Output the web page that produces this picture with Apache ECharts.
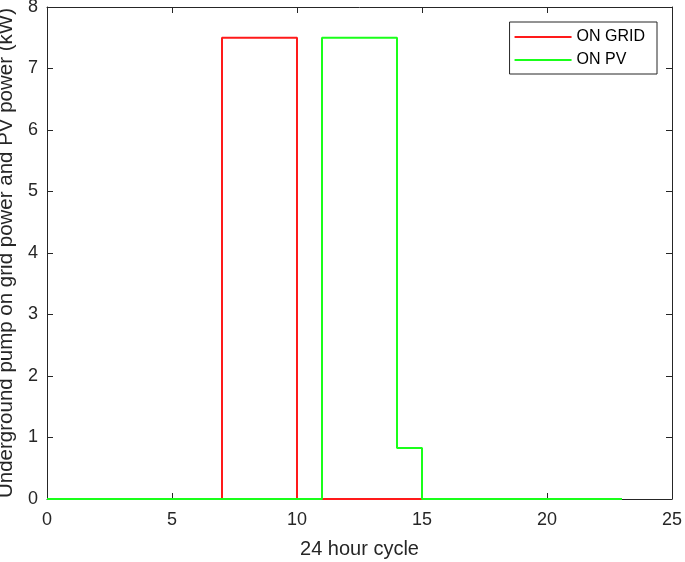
<!DOCTYPE html>
<html>
<head>
<meta charset="utf-8">
<script src="https://cdn.jsdelivr.net/npm/echarts@6/dist/echarts.min.js"></script>
<style>
html, body { margin: 0; padding: 0; background: #fff; }
#chart { width: 685px; height: 562px; }
</style>
</head>
<body>
<div id="chart"></div>
<script>
// 数据
const xTicks = [0, 5, 10, 15, 20, 25]
const yTicks = [0, 1, 2, 3, 4, 5, 6, 7, 8]
const gridPoints = [[0, 0], [7, 0], [7, 7.5], [10, 7.5], [10, 0], [15, 0]]
const pvPoints = [[0, 0], [11, 0], [11, 7.5], [14, 7.5], [14, 0.83], [15, 0.83], [15, 0], [23, 0]]
const seriesNames = ['ON GRID', 'ON PV']

const chart = echarts.init(document.getElementById('chart'))
const axisColor = '#262626'
const font = 'Liberation Sans, Arial, sans-serif'

const baseAxis = {
	type: 'value',
	axisLine: { show: true, onZero: false, lineStyle: { color: axisColor, width: 1 } },
	axisTick: { show: true, inside: true, length: 6, lineStyle: { color: axisColor } },
	splitLine: { show: false }
}

const option = {
	animation: false,
	grid: { left: 47, right: 13, top: 7, bottom: 63, containLabel: false, outerBoundsMode: 'none' },
	legend: {
		data: seriesNames,
		orient: 'vertical',
		right: 28,
		top: 22,
		backgroundColor: '#fff',
		borderColor: axisColor,
		borderWidth: 1,
		borderRadius: 0,
		padding: [7, 12, 6, 5],
		itemGap: 7,
		itemWidth: 57,
		itemHeight: 2,
		icon: 'rect',
		textStyle: { color: '#000', fontSize: 16, fontFamily: font, padding: [0, 0, 0, 0] }
	},
	xAxis: [
		Object.assign({}, baseAxis, {
			min: 0, max: 25, interval: 5,
			name: '24 hour cycle',
			nameLocation: 'middle',
			nameGap: 40,
			nameTextStyle: { color: axisColor, fontSize: 20, fontFamily: font },
			axisLabel: { color: axisColor, fontSize: 18, fontFamily: font, margin: 12 }
		}),
		Object.assign({}, baseAxis, {
			min: 0, max: 25, interval: 5, position: 'top',
			axisLabel: { show: false }
		})
	],
	yAxis: [
		Object.assign({}, baseAxis, {
			min: 0, max: 8, interval: 1,
			name: 'Underground pump on grid power and PV power (kW)',
			nameLocation: 'middle',
			nameGap: 24,
			nameTextStyle: { color: axisColor, fontSize: 20.5, fontFamily: font },
			axisLabel: { color: axisColor, fontSize: 18, fontFamily: font, margin: 9 }
		}),
		Object.assign({}, baseAxis, {
			min: 0, max: 8, interval: 1, position: 'right',
			axisLabel: { show: false }
		})
	],
	series: [
		{
			name: seriesNames[0],
			type: 'line',
			data: gridPoints,
			showSymbol: false,
			lineStyle: { color: '#ff1a1a', width: 2 },
			itemStyle: { color: '#ff1a1a' },
			z: 2
		},
		{
			name: seriesNames[1],
			type: 'line',
			data: pvPoints,
			showSymbol: false,
			lineStyle: { color: '#1aff1a', width: 2 },
			itemStyle: { color: '#1aff1a' },
			z: 3
		}
	]
}
chart.setOption(option)
</script>
</body>
</html>
